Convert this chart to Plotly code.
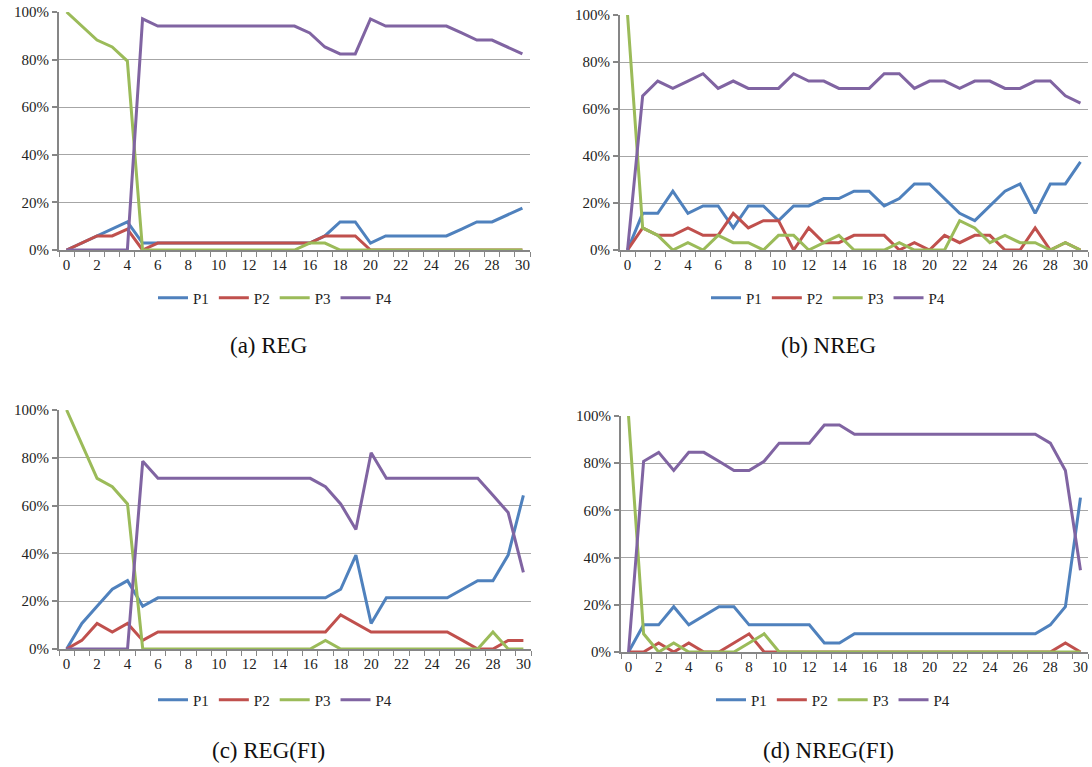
import plotly.graph_objects as go

x = list(range(31))
series_names = ["P1", "P2", "P3", "P4"]
colors = ["#4F81BD", "#C0504D", "#9BBB59", "#8064A2"]
y_ticks = [0, 20, 40, 60, 80, 100]
y_tick_labels = ["0%", "20%", "40%", "60%", "80%", "100%"]
x_ticks = list(range(0, 31, 2))
x_tick_labels = [str(v) for v in x_ticks]

# (a) REG
reg_p1 = [0, 2.9, 5.9, 8.8, 11.8, 2.9, 2.9, 2.9, 2.9, 2.9, 2.9, 2.9, 2.9, 2.9, 2.9, 2.9,
          2.9, 5.9, 11.8, 11.8, 2.9, 5.9, 5.9, 5.9, 5.9, 5.9, 8.8, 11.8, 11.8, 14.7, 17.6]
reg_p2 = [0, 2.9, 5.9, 5.9, 8.8, 0, 2.9, 2.9, 2.9, 2.9, 2.9, 2.9, 2.9, 2.9, 2.9, 2.9,
          2.9, 5.9, 5.9, 5.9, 0, 0, 0, 0, 0, 0, 0, 0, 0, 0, 0]
reg_p3 = [100, 94.1, 88.2, 85.3, 79.4, 0, 0, 0, 0, 0, 0, 0, 0, 0, 0, 0,
          2.9, 2.9, 0, 0, 0, 0, 0, 0, 0, 0, 0, 0, 0, 0, 0]
reg_p4 = [0, 0, 0, 0, 0, 97.1, 94.1, 94.1, 94.1, 94.1, 94.1, 94.1, 94.1, 94.1, 94.1, 94.1,
          91.2, 85.3, 82.4, 82.4, 97.1, 94.1, 94.1, 94.1, 94.1, 94.1, 91.2, 88.2, 88.2, 85.3, 82.4]

# (b) NREG
nreg_p1 = [0, 15.6, 15.6, 25, 15.6, 18.75, 18.75, 9.4, 18.75, 18.75, 12.5, 18.75, 18.75, 21.9, 21.9, 25,
           25, 18.75, 21.9, 28.1, 28.1, 21.9, 15.6, 12.5, 18.75, 25, 28.1, 15.6, 28.1, 28.1, 37.5]
nreg_p2 = [0, 9.4, 6.25, 6.25, 9.4, 6.25, 6.25, 15.6, 9.4, 12.5, 12.5, 0, 9.4, 3.1, 3.1, 6.25,
           6.25, 6.25, 0, 3.1, 0, 6.25, 3.1, 6.25, 6.25, 0, 0, 9.4, 0, 3.1, 0]
nreg_p3 = [100, 9.4, 6.25, 0, 3.1, 0, 6.25, 3.1, 3.1, 0, 6.25, 6.25, 0, 3.1, 6.25, 0,
           0, 0, 3.1, 0, 0, 0, 12.5, 9.4, 3.1, 6.25, 3.1, 3.1, 0, 3.1, 0]
nreg_p4 = [0, 65.6, 71.9, 68.75, 71.9, 75, 68.75, 71.9, 68.75, 68.75, 68.75, 75, 71.9, 71.9, 68.75, 68.75,
           68.75, 75, 75, 68.75, 71.9, 71.9, 68.75, 71.9, 71.9, 68.75, 68.75, 71.9, 71.9, 65.6, 62.5]

# (c) REG(FI)
regfi_p1 = [0, 10.7, 17.9, 25, 28.6, 17.9, 21.4, 21.4, 21.4, 21.4, 21.4, 21.4, 21.4, 21.4, 21.4, 21.4,
            21.4, 21.4, 25, 39.3, 10.7, 21.4, 21.4, 21.4, 21.4, 21.4, 25, 28.6, 28.6, 39.3, 64.3]
regfi_p2 = [0, 3.6, 10.7, 7.1, 10.7, 3.6, 7.1, 7.1, 7.1, 7.1, 7.1, 7.1, 7.1, 7.1, 7.1, 7.1,
            7.1, 7.1, 14.3, 10.7, 7.1, 7.1, 7.1, 7.1, 7.1, 7.1, 3.6, 0, 0, 3.6, 3.6]
regfi_p3 = [100, 85.7, 71.4, 67.9, 60.7, 0, 0, 0, 0, 0, 0, 0, 0, 0, 0, 0,
            0, 3.6, 0, 0, 0, 0, 0, 0, 0, 0, 0, 0, 7.1, 0, 0]
regfi_p4 = [0, 0, 0, 0, 0, 78.6, 71.4, 71.4, 71.4, 71.4, 71.4, 71.4, 71.4, 71.4, 71.4, 71.4,
            71.4, 67.9, 60.7, 50, 82.1, 71.4, 71.4, 71.4, 71.4, 71.4, 71.4, 71.4, 64.3, 57.1, 32.1]

# (d) NREG(FI)
nregfi_p1 = [0, 11.5, 11.5, 19.2, 11.5, 15.4, 19.2, 19.2, 11.5, 11.5, 11.5, 11.5, 11.5, 3.8, 3.8, 7.7,
             7.7, 7.7, 7.7, 7.7, 7.7, 7.7, 7.7, 7.7, 7.7, 7.7, 7.7, 7.7, 11.5, 19.2, 65.4]
nregfi_p2 = [0, 0, 3.8, 0, 3.8, 0, 0, 3.8, 7.7, 0, 0, 0, 0, 0, 0, 0,
             0, 0, 0, 0, 0, 0, 0, 0, 0, 0, 0, 0, 0, 3.8, 0]
nregfi_p3 = [100, 7.7, 0, 3.8, 0, 0, 0, 0, 3.8, 7.7, 0, 0, 0, 0, 0, 0,
             0, 0, 0, 0, 0, 0, 0, 0, 0, 0, 0, 0, 0, 0, 0]
nregfi_p4 = [0, 80.8, 84.6, 76.9, 84.6, 84.6, 80.8, 76.9, 76.9, 80.8, 88.5, 88.5, 88.5, 96.2, 96.2, 92.3,
             92.3, 92.3, 92.3, 92.3, 92.3, 92.3, 92.3, 92.3, 92.3, 92.3, 92.3, 92.3, 88.5, 76.9, 34.6]

captions = ["(a) REG", "(b) NREG", "(c) REG(FI)", "(d) NREG(FI)"]
panels = [
    [reg_p1, reg_p2, reg_p3, reg_p4],
    [nreg_p1, nreg_p2, nreg_p3, nreg_p4],
    [regfi_p1, regfi_p2, regfi_p3, regfi_p4],
    [nregfi_p1, nregfi_p2, nregfi_p3, nregfi_p4],
]

W, H = 1092, 767
# pixel boxes: (x0, x1, ytop, ybottom)
boxes = [(59, 530, 12, 250), (620, 1088, 15, 250), (59, 531, 410, 649), (621, 1088, 416, 652)]
legend_pos = [(275, 298), (828, 298), (275, 700), (833, 700)]
caption_pos = [(268, 346), (828, 346), (268, 750), (828, 750)]

FONT = "Liberation Serif, DejaVu Serif, serif"
GRID = "#a6a6a6"
AXIS = "#868686"
TXT = "#222222"

fig = go.Figure()
annotations = []
for i, vals in enumerate(panels):
    k = "" if i == 0 else str(i + 1)
    lg = "legend" if i == 0 else f"legend{i + 1}"
    for j, name in enumerate(series_names):
        fig.add_trace(go.Scatter(
            x=x, y=vals[j], mode="lines", name=name,
            line=dict(color=colors[j], width=3),
            xaxis="x" + k, yaxis="y" + k, legend=lg,
        ))
    x0, x1, yt, yb = boxes[i]
    fig.layout["xaxis" + k] = go.layout.XAxis(
        domain=[x0 / W, x1 / W], anchor="y" + k, range=[-0.5, 30.5],
        tickmode="array", tickvals=x_ticks, ticktext=x_tick_labels, ticks="",
        showgrid=False, showline=True, linecolor=AXIS, linewidth=2, zeroline=False,
        tickfont=dict(family=FONT, size=15, color=TXT),
        minor=dict(tick0=-0.5, dtick=1, ticks="outside", ticklen=5,
                   tickcolor=AXIS, tickwidth=1, showgrid=False),
        fixedrange=True,
    )
    fig.layout["yaxis" + k] = go.layout.YAxis(
        domain=[1 - yb / H, 1 - yt / H], anchor="x" + k, range=[0, 100],
        tickmode="array", tickvals=y_ticks, ticktext=y_tick_labels,
        showgrid=True, gridcolor=GRID, gridwidth=1.3,
        showline=True, linecolor=AXIS, linewidth=2, zeroline=False,
        ticks="outside", ticklen=5, tickcolor=AXIS, tickwidth=1.5,
        tickfont=dict(family=FONT, size=15, color=TXT),
        fixedrange=True,
    )
    lx, ly = legend_pos[i]
    fig.layout[lg] = dict(
        x=lx / W, y=1 - ly / H, xanchor="center", yanchor="middle",
        orientation="h", font=dict(family=FONT, size=15, color=TXT),
        bgcolor="rgba(0,0,0,0)", itemwidth=30,
    )
    cx, cy = caption_pos[i]
    annotations.append(dict(
        text=captions[i], x=cx / W, y=1 - cy / H, xref="paper", yref="paper",
        xanchor="center", yanchor="middle", showarrow=False,
        font=dict(family=FONT, size=23, color="#111111"),
    ))

fig.update_layout(
    width=W, height=H, margin=dict(l=0, r=0, t=0, b=0, pad=0),
    paper_bgcolor="white", plot_bgcolor="white", template="none",
    font=dict(family=FONT, size=15, color=TXT),
    annotations=annotations,
)
fig.write_html("out.html", config={"displayModeBar": False},
               post_script="document.body.style.margin='0px';")
